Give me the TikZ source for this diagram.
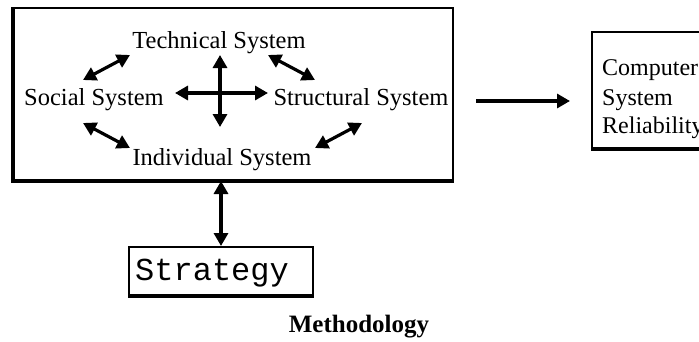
\documentclass[tikz,border=0pt]{standalone}
\usepackage{fontspec}
\setmainfont{Liberation Serif}
\newfontfamily\monofont{Liberation Mono}
\usetikzlibrary{arrows.meta}
\tikzset{
  lbl/.style={font=\fontsize{24.5}{29}\selectfont, inner sep=0pt, anchor=base},
  cl/.style={font=\fontsize{24}{29}\selectfont, inner sep=0pt, anchor=base west},
  frame/.style={draw=black, line width=2pt, inner sep=0pt},
  heavy/.style={line width=4pt},
  tip/.tip={Triangle[length=13pt,width=14pt]},
  dbl/.style={line width=3.2pt, {tip}-{tip}},
  sgl/.style={line width=3.2pt, -{tip}}
}
\begin{document}
\begin{tikzpicture}[x=1pt,y=-1pt]
\useasboundingbox (0,0) rectangle (699,341);
% main box
\node[frame, minimum width=439pt, minimum height=172pt] (main) at (233.5,94) {};
\draw[heavy] (main.north west) -- (main.south west) -- (main.south east);
% labels
\node[lbl] (tech) at (219,48) {Technical System};
\node[lbl] (soc) at (94,105) {Social System};
\node[lbl] (str) at (361,105) {Structural System};
\node[lbl] (ind) at (222,165) {Individual System};
% cross
\coordinate (vt) at (220,55);
\coordinate (vb) at (220,127);
\coordinate (hl) at (175,93);
\coordinate (hr) at (268,93);
\draw[dbl] (vt) -- (vb);
\draw[dbl] (hl) -- (hr);
% diagonals
\coordinate (tl1) at (83,80);  \coordinate (tl2) at (130,55);
\coordinate (tr1) at (268,55); \coordinate (tr2) at (315,80);
\coordinate (bl1) at (83,123); \coordinate (bl2) at (130,148);
\coordinate (br1) at (315,148); \coordinate (br2) at (362,123);
\draw[dbl] (tl1) -- (tl2);
\draw[dbl] (tr1) -- (tr2);
\draw[dbl] (bl1) -- (bl2);
\draw[dbl] (br1) -- (br2);
% computer box
\node[frame, minimum width=150pt, minimum height=116pt] (comp) at (667,90) {};
\draw[line width=3pt] (comp.south west) -- (comp.south east);
\node[cl] (c1) at (602,75) {Computer};
\node[cl] (c2) at (602,105) {System};
\node[cl] (c3) at (602,133) {Reliability};
% arrow to computer
\coordinate (ma) at (476,101);
\coordinate (mb) at (570,101);
\draw[sgl] (ma) -- (mb);
% strategy
\node[frame, minimum width=184pt, minimum height=48pt] (strat) at (221,271) {};
\draw[line width=3pt] (strat.south west) -- (strat.south east);
\node[font=\monofont\fontsize{32}{32}\selectfont, inner sep=0pt, anchor=base west] (stext) at (135,280) {Strategy};
\draw[dbl] (strat.north |- main.south) -- (strat.north);
% caption
\node[font=\bfseries\fontsize{25}{30}\selectfont, inner sep=0pt, anchor=base] (cap) at (359,332) {Methodology};
\end{tikzpicture}
\end{document}
